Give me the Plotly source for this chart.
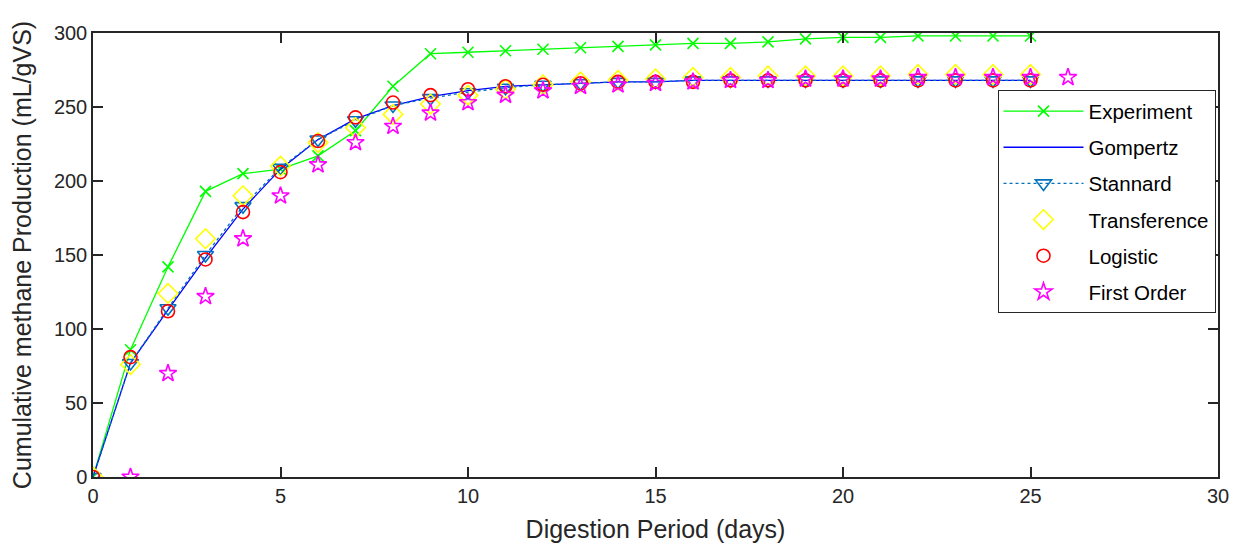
import plotly.graph_objects as go

# digestion days
days = list(range(26))
first_order_days = list(range(1, 27))

experiment = [0, 86, 142, 193, 205, 208, 217, 234, 264, 286, 287, 288, 289, 290, 291,
              292, 293, 293, 294, 296, 297, 297, 298, 298, 298, 298]
gompertz = [0, 77, 113, 148, 181, 208, 228, 242, 251, 257, 261, 264, 265, 266, 267,
            267, 268, 268, 268, 268, 268, 268, 268, 268, 268, 268]
stannard = [0, 77, 114, 150, 183, 209, 228, 241, 251, 256, 260, 263, 265, 266, 267,
            267, 268, 268, 268, 268, 268, 268, 268, 268, 268, 268]
transference = [0, 76, 124, 161, 190, 210, 226, 236, 245, 252, 258, 262, 265, 267, 268,
                269, 270, 270, 271, 271, 271, 271, 272, 272, 272, 272]
logistic = [0, 81, 112, 147, 179, 206, 227, 243, 253, 258, 262, 264, 265, 266, 267,
            267, 267, 268, 268, 268, 268, 268, 268, 268, 268, 268]
first_order = [0, 70, 122, 161, 190, 211, 226, 237, 246, 253, 258, 261, 264, 265, 266,
               267, 268, 268, 269, 269, 269, 270, 270, 270, 270, 270]

FONT = 'Liberation Sans, Arial, sans-serif'
AXIS_COLOR = '#262626'

fig = go.Figure()

fig.add_trace(go.Scatter(
    x=days, y=experiment, name='Experiment', mode='lines+markers', legendgroup='a',
    line=dict(color='#00ff00', width=1.3),
    marker=dict(symbol='x-thin-open', size=11, line=dict(color='#00ff00', width=1.6))))
fig.add_trace(go.Scatter(
    x=days, y=gompertz, name='Gompertz', mode='lines', legendgroup='b',
    line=dict(color='#0000ff', width=1.3)))
fig.add_trace(go.Scatter(
    x=days, y=stannard, name='Stannard', mode='lines+markers', legendgroup='c',
    line=dict(color='#0072bd', width=1.3, dash='dot'),
    marker=dict(symbol='triangle-down-open', size=14, line=dict(color='#0072bd', width=1.6))))
fig.add_trace(go.Scatter(
    x=days, y=transference, name='Transference', mode='markers', legendgroup='d',
    marker=dict(symbol='diamond-open', size=15, color='#ffff00', line=dict(color='#ffff00', width=1.6))))
fig.add_trace(go.Scatter(
    x=days, y=logistic, name='Logistic', mode='markers', legendgroup='e',
    marker=dict(symbol='circle-open', size=13, color='#ff0000', line=dict(color='#ff0000', width=1.6))))
fig.add_trace(go.Scatter(
    x=first_order_days, y=first_order, name='First Order', mode='markers', legendgroup='f',
    marker=dict(symbol='star-open', size=13, color='#ff00ff', line=dict(color='#ff00ff', width=1.6))))

axis_style = dict(
    showline=True, linecolor=AXIS_COLOR, linewidth=1.5, mirror='ticks',
    ticks='inside', ticklen=10, tickwidth=1.5, tickcolor=AXIS_COLOR,
    showgrid=False, zeroline=False, automargin=False,
    tickfont=dict(family=FONT, size=20, color=AXIS_COLOR),
)

# page body adds 8px around the plot, margins compensate for it
fig.update_layout(
    width=1242, height=547,
    margin=dict(l=85, r=32, t=25, b=78),
    paper_bgcolor='white', plot_bgcolor='white',
    font=dict(family=FONT, color=AXIS_COLOR),
    xaxis=dict(axis_style, range=[0, 30], dtick=5,
               title=dict(text='Digestion Period (days)', standoff=15,
                          font=dict(family=FONT, size=25, color=AXIS_COLOR))),
    yaxis=dict(axis_style, range=[0, 300], dtick=50,
               title=dict(text='Cumulative methane Production (mL/gVS)', standoff=16,
                          font=dict(family=FONT, size=25, color=AXIS_COLOR))),
    legend=dict(
        x=0.804, y=0.871, xanchor='left', yanchor='top',
        bgcolor='white', bordercolor=AXIS_COLOR, borderwidth=1,
        font=dict(family=FONT, size=20.5, color='#000000'),
        tracegroupgap=6.5, itemwidth=80,
    ),
)

fig.write_html("out.html")
